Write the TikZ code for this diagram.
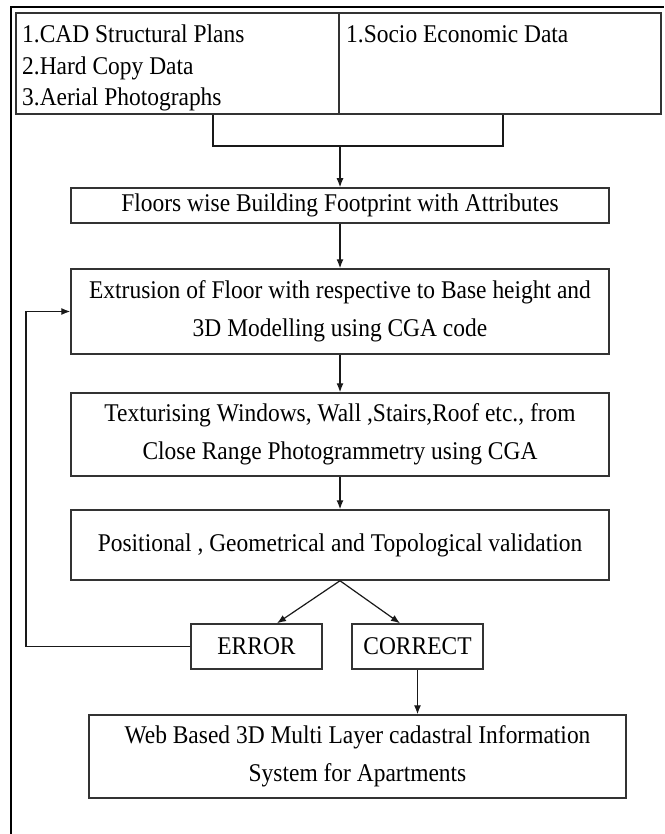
\documentclass[tikz,border=0pt]{standalone}
\usepackage{fontspec}
\setmainfont{Liberation Serif}[FakeStretch=0.92]
\usetikzlibrary{arrows.meta}
\begin{document}
\begin{tikzpicture}[x=1pt,y=-1pt,
  every node/.style={font=\fontsize{25.5}{38}\selectfont, inner sep=0pt},
  flowbox/.style={draw=black!80, line width=1.5pt, rectangle, align=center},
  conn/.style={draw=black!90, line width=1.2pt},
  arr/.style={conn, -{Latex[length=9pt,width=7pt]}},
  frame/.style={draw=black, line width=2.2pt}]
\useasboundingbox (0,0) rectangle (664,834);
% outer frame (top and left visible)
\draw[frame] (11,834) -- (11,7) -- (664,7);
% top boxes
\node[flowbox, minimum width=323pt, minimum height=101pt] (cad) at (177.5,63.5) {};
\node[flowbox, minimum width=322pt, minimum height=101pt] (soc) at (500,63.5) {};
\node[anchor=north west, align=left, font=\fontsize{25.5}{31.5}\selectfont] (cadtxt) at (22,25)
  {1.CAD Structural Plans\\2.Hard Copy Data\\3.Aerial Photographs};
\node[anchor=north west] (soctxt) at (346,25) {1.Socio Economic Data};
% flow boxes
\node[flowbox, minimum width=538pt, minimum height=35pt] (floors) at (340,205.5)
  {Floors wise Building Footprint with Attributes};
\node[flowbox, minimum width=538pt, minimum height=85pt] (ext) at (340,311.5)
  {Extrusion of Floor with respective to Base height and\\3D Modelling using CGA code};
\node[flowbox, minimum width=538pt, minimum height=83pt] (tex) at (340,434.5)
  {Texturising Windows, Wall ,Stairs,Roof etc., from\\Close Range Photogrammetry using CGA};
\node[flowbox, minimum width=538pt, minimum height=70pt] (pos) at (340,545)
  {Positional , Geometrical and Topological validation};
\node[flowbox, minimum width=131pt, minimum height=45pt] (err) at (256.5,646.5) {ERROR};
\node[flowbox, minimum width=131pt, minimum height=45pt] (cor) at (417.5,646.5) {CORRECT};
\node[flowbox, minimum width=537pt, minimum height=83pt] (web) at (357.5,756.5)
  {Web Based 3D Multi Layer cadastral Information\\System for Apartments};
% bracket
\coordinate (bl) at (213,146);
\coordinate (br) at (503,146);
\coordinate (bm) at (340,146);
\draw[conn] (cad.south -| bl) -- (bl) -- (br) -- (soc.south -| br);
\draw[arr] (bm) -- (floors.north);
\draw[arr] (floors) -- (ext);
\draw[arr] (ext) -- (tex);
\draw[arr] (tex) -- (pos);
\draw[arr] (pos.south) -- ([xshift=20.5pt]err.north);
\draw[arr] (pos.south) -- ([xshift=-17.5pt]cor.north);
\draw[arr] (cor.south) -- (web.north -| cor.south);
% feedback loop
\coordinate (lp) at (26,0);
\draw[arr] (err.west) -- (err.west -| lp) |- (ext.west);
\end{tikzpicture}
\end{document}
